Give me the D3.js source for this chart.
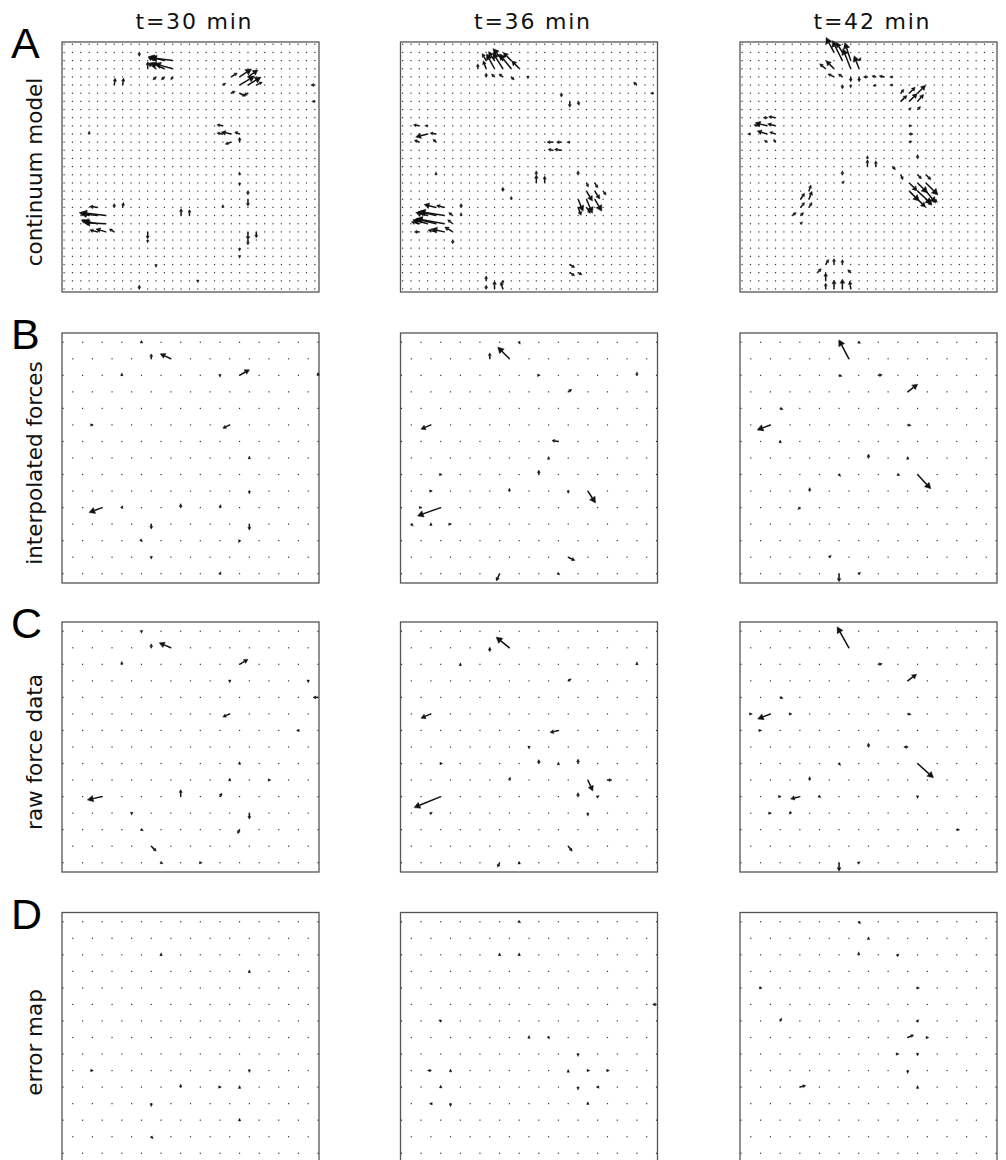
<!DOCTYPE html>
<html lang="en">
<head>
<meta charset="UTF-8">
<title>Traction force maps</title>
<script src="https://cdn.jsdelivr.net/npm/d3@7"></script>
<style>
  body { margin: 0; background: #fff; }
  .title, .rowname { font-family: "DejaVu Sans", sans-serif; fill: #111; }
  .letter { font-family: "Liberation Sans", Arial, sans-serif; fill: #000; }
</style>
</head>
<body>
<script>
// column titles, row labels, panel letters
const times = ["t=30 min", "t=36 min", "t=42 min"];
const rowNames = ["continuum model", "interpolated forces", "raw force data", "error map"];
const letters = ["A", "B", "C", "D"];

// continuum model grid: 31 x 31 nodes (col, row counted from the top)
const denseIdx = d3.range(1, 32);
// hexagonal sampling grid: 15 rows; odd rows sit on x = 0,2..26, even rows on x = 1,3..25
const hexRowIdx = d3.range(1, 16);

// vectors are [col, row, u, v]  (u to the right, v upward, force units)
const contA30 = [
  [14,3,-2.2,0.3],[13,3,-1.6,0.4],[12,3,-0.8,0.3],
  [14,4,-1.8,0.5],[13,4,-1.4,0.6],[12,4,-0.8,0.6],[11,4,0,0.7],
  [12,5,-0.3,-0.3],[13,5,-0.3,-0.3],[14,5,-0.2,-0.3],[10,2,0,-0.4],
  [7,6,0.1,0.7],[8,6,0.1,0.7],
  [21,5,0.6,0.4],[22,5,1.2,0.8],[23,5,1.0,0.7],[20,6,0.3,0.2],[22,6,1.5,0.9],[23,6,1.3,0.8],
  [24,6,0.6,0.3],[21,7,0.4,0.2],[22,7,0.6,-0.3],[23,7,-0.4,-0.2],
  [31,6,-0.4,0],[31,8,-0.3,0],
  [20,11,-0.6,0.1],[21,12,-1.0,0.2],[20,12,-0.6,0.1],[22,12,-0.5,0.2],[21,13,-0.6,-0.2],[22,13,0,0.5],
  [4,12,0,0.3],
  [5,21,-0.8,0.1],[6,22,-2.5,0.3],[5,22,-1.7,0.2],[4,22,-1.0,0.3],[6,23,-2.2,0.1],[5,23,-1.5,0.3],
  [4,23,-0.8,0.4],[6,24,-1.0,0.3],[5,24,-0.8,0.2],[7,24,-0.5,0.3],
  [7,21,0,0.4],[8,21,0.1,0.5],[15,22,0,0.7],[16,22,0,0.6],[20,21,0,0.3],
  [23,19,0,-0.4],[23,20,0,-0.7],[23,24,0,-0.8],[24,24,0,-0.6],[23,25,0,-0.5],
  [11,24,0,-0.7],[11,25,0,-0.3],[22,26,0,-0.3],[22,27,0,-0.2],[12,28,0,-0.3],
  [10,31,0,0.4],[17,30,0,-0.2],[22,17,0,0.3],[22,18,0,-0.3]
];
const contA36 = [
  [11,3,-0.4,0.7],[12,3,-0.6,0.9],[13,3,-1.0,1.2],[14,3,-0.8,0.8],
  [10,4,0,0.5],[11,4,-0.3,0.8],[12,4,-0.8,1.5],[13,4,-1.0,1.6],[14,4,-1.2,1.5],[15,4,-0.8,0.8],
  [11,5,0,0.4],[12,5,-0.3,0.3],[13,5,-0.4,0.3],[14,5,0.3,-0.3],[16,5,0,-0.2],
  [29,6,-0.3,0.3],[31,7,-0.3,0],[20,7,0,-0.4],[21,8,0,-0.6],[22,8,0.1,-0.4],
  [3,11,-0.6,0.1],[4,11,-0.3,0],[4,12,-1.2,-0.3],[5,12,-0.6,0.1],[3,13,-0.5,0.2],[5,13,-0.3,0.3],
  [19,13,-0.6,0],[20,13,-0.5,0],[21,13,-0.3,0],[19,14,-0.5,0.1],[20,14,-0.7,0.1],
  [17,18,0,0.8],[18,18,0,0.7],[17,17,0,0.4],
  [22,17,0,0.4],[23,18,0.2,-0.4],[24,18,0.3,-0.5],[23,19,0.6,-1.0],[24,19,0.5,-0.8],[25,19,0.3,-0.4],
  [22,20,0.5,-1.2],[23,20,0.6,-1.4],[24,20,0.7,-1.2],[22,21,0.3,-0.8],[23,21,0.4,-0.6],
  [13,19,0,0.4],[14,20,0,0.3],[5,17,0,0.3],
  [5,21,-1.2,0.3],[6,21,-0.8,0.2],[6,22,-2.5,0.4],[5,22,-1.8,0.4],[4,22,-1.2,0.3],[7,22,-0.4,0.3],
  [6,23,-2.8,0.5],[5,23,-2.0,0.5],[4,23,-1.5,0.4],[3,23,-0.8,0.2],[7,23,-0.5,0.4],
  [6,24,-1.3,0.3],[7,24,-0.8,0.5],[5,24,-0.8,0.2],[3,24,-0.5,0],[7,25,0,-0.4],
  [8,21,0,0.4],[8,22,0,0.3],[21,28,0.5,-0.3],[21,29,0.5,-0.3],[22,29,0.4,-0.2],
  [11,30,0,0.5],[12,31,0,0.8],[13,31,-0.2,0.7],[11,31,0,0.4],[13,30,0,-0.3]
];
const contA42 = [
  [12,2,-0.8,1.5],[13,2,-0.6,1.0],[13,3,-1.0,2.0],[14,3,-0.6,1.8],[14,4,-0.8,2.0],[15,4,-0.5,1.3],
  [12,4,-0.8,0.8],[11,4,-0.6,0.5],[12,5,-0.6,0.3],[13,5,-0.4,0.3],[14,5,0,-0.5],[15,5,0,-0.5],[15,3,0.2,0.3],
  [16,5,-0.4,0],[17,5,-0.4,0.1],[18,5,-0.5,0.1],[19,5,-0.3,0],[17,6,-0.3,-0.1],[13,6,0,-0.4],[14,6,0,-0.3],[19,6,-0.3,0],
  [20,8,0.6,0.6],[21,8,0.8,0.8],[22,8,0.6,0.7],[21,7,0.6,0.6],[22,7,0.8,0.8],[20,7,0.3,0.4],[22,9,0.3,0.3],[21,9,0.2,0.2],
  [4,11,-1.2,0.3],[5,11,-0.8,0.2],[5,10,-0.7,0.1],[4,10,-0.4,0],[4,12,-1.0,0.3],[5,12,-0.6,0.2],
  [4,13,-0.3,0.2],[5,13,-0.2,0.3],[3,11,-0.5,0.1],[2,12,-0.3,0],
  [21,11,0.3,0],[21,12,0.4,0],[21,13,0.3,0.1],
  [16,16,0,0.7],[17,16,0,0.6],[16,15,0,0.3],[19,16,0.3,-0.3],[20,17,0.2,-0.5],[22,15,0,0.4],
  [21,18,0.8,-0.8],[22,18,1.0,-1.0],[23,18,1.2,-1.2],[21,19,1.0,-1.0],[22,19,1.4,-1.3],[23,19,1.0,-1.2],
  [22,20,0.8,-0.8],[23,20,0.6,-0.6],[24,20,0.3,-0.3],[22,17,0.4,-0.4],[23,17,0.5,-0.5],
  [13,17,0,0.4],[13,18,0.2,0.2],
  [8,20,0.4,0.6],[9,20,0.3,0.8],[8,21,0.4,0.5],[9,21,0.3,0.5],[7,22,0.4,0.3],[8,22,0.3,0.3],[9,19,0.2,0.6],[8,23,0.2,0.2],
  [11,28,0.3,0.5],[12,28,0,0.6],[13,28,0,0.5],[10,29,0.4,0.4],[11,30,0,0.8],[12,31,0,0.9],
  [13,31,0,1.0],[14,31,-0.1,0.8],[11,31,0,0.6],[14,29,-0.3,0.3]
];

// interpolated forces on the hexagonal grid [x, row, u, v]
const interp30 = [
  [9,2,0,0.5],[11,2,-1.07,0.5],[18,3,1.0,0.57],[17,6,-0.7,-0.33],[4,11,-1.33,-0.5],[12,11,0,0.4],
  [16,11,0.1,0.3],[6,11,0.1,0.2],[9,12,0,-0.5],[19,10,0,-0.3],[19,12,0,-0.6],[18,13,-0.1,-0.2],
  [8,13,0.1,-0.1],[9,14,0,-0.2],[16,15,0.1,0.2],[6,3,0,0.25],[16,3,0,-0.2],[3,6,0.1,0],[26,3,0,0.3],
  [8,1,0,0.2],[19,8,0,0.2]
];
const interp36 = [
  [9,2,0,0.6],[11,2,-1.17,1.17],[12,1,0.1,-0.2],[14,3,0.15,0],[17,4,0.35,0.25],[24,3,0,0.35],
  [3,6,-1.0,-0.43],[16,7,-0.65,0.1],[15,8,0,0.15],[14,9,0,0.45],[4,9,0.15,0],[3,10,0.15,0],
  [11,10,0,0.3],[17,10,0,-0.25],[19,10,0.77,-1.2],[4,11,-2.33,-0.83],[2,11,0.1,0],[1,12,0.2,-0.2],
  [3,12,0,0.15],[5,12,0.1,0],[17,14,0.67,-0.33],[16,15,0.15,-0.1],[10,15,-0.33,-0.73]
];
const interp42 = [
  [11,2,-1.0,1.9],[12,1,0.2,-0.1],[10,3,0.3,-0.1],[14,3,0.4,0.05],[17,4,1.0,0.77],[4,5,0.3,-0.1],
  [3,6,-1.33,-0.5],[17,6,0.35,-0.05],[4,7,0,0.15],[13,8,0,0.4],[17,8,0,0.15],[10,9,0.15,-0.2],
  [16,9,0.2,-0.1],[18,9,1.33,-1.43],[7,10,0,0.35],[6,11,-0.2,-0.2],[9,14,0.2,0.2],[10,15,0,-0.8],
  [12,15,0.2,0.15]
];

// raw force data
const raw30 = [
  [8,1,0,-0.2],[9,2,0,0.4],[11,2,-1.17,0.5],[18,3,0.85,0.5],[6,3,0,0.3],[17,6,-0.7,-0.3],
  [17,4,0,-0.2],[25,4,0,-0.2],[26,5,-0.5,0],[24,7,-0.2,0],[18,9,0,0.2],[17,10,0,0.2],
  [4,11,-1.5,-0.33],[12,11,0,0.7],[16,11,0.2,0.35],[19,12,0,-0.6],[18,13,-0.2,-0.4],[8,13,0.2,-0.1],
  [9,14,0.5,-0.5],[10,15,0.2,-0.1],[14,15,0.2,0],[7,12,0,-0.2],[21,10,0.2,0]
];
const raw36 = [
  [9,2,0,-0.4],[11,2,-1.33,1.07],[6,3,0,0.15],[24,3,0,0.25],[17,4,0.3,0.2],[3,6,-1.0,-0.43],
  [16,7,-0.85,-0.2],[13,8,0,-0.2],[4,9,0.2,0],[14,9,0,0.4],[16,9,0,0.15],[18,9,0,0.45],
  [11,10,0.1,0.3],[19,10,0.5,-1.1],[21,10,0.45,0],[18,11,0,0.4],[20,11,0.15,0.1],[4,11,-2.67,-1.1],
  [3,12,0.15,0.1],[19,12,0,-0.3],[17,14,0.4,-0.5],[10,15,-0.2,-0.45],[12,15,0,0.15]
];
const raw42 = [
  [11,2,-1.17,2.1],[14,3,0.4,0.05],[17,4,0.9,0.67],[4,5,0.3,-0.1],[3,6,-1.27,-0.5],[1,6,0.15,0],
  [5,6,0.2,0],[17,6,0.35,-0.05],[2,7,0.1,0],[13,8,0,0.4],[17,8,-0.4,0],[10,9,0.15,-0.2],
  [18,9,1.6,-1.43],[7,10,0,0.35],[6,11,-0.93,-0.23],[8,11,0.15,-0.1],[4,11,0.1,0],[18,11,0,-0.2],
  [3,12,0.1,0],[5,12,-0.1,-0.1],[22,13,0.3,0],[10,15,0,-0.85],[12,15,0.15,0.1]
];

// error map
const err30 = [
  [12,11,0,0.3],[9,12,0,-0.3],[9,14,0.2,-0.2],[18,13,0,0.2],[19,10,0,-0.2],[3,10,0.1,0],
  [19,4,0,0.15],[10,3,0,0.2],[16,11,0.15,0],[18,11,0,0.15]
];
const err36 = [
  [12,1,0.15,-0.1],[10,3,0,0.2],[12,3,0,0.2],[26,6,-0.4,0],[4,7,-0.2,0.1],[13,8,0,0.2],
  [15,8,0.1,-0.15],[18,9,0,-0.25],[3,10,-0.35,0],[5,10,0,0.15],[17,10,0,0.1],[19,10,0.2,0],
  [21,10,0.2,0],[4,11,0,0.2],[18,11,0,-0.3],[20,11,-0.15,0],[3,12,-0.15,0],[5,12,0,-0.3],[19,12,0,0.2]
];
const err42 = [
  [12,1,0.2,-0.2],[13,2,0,0.15],[12,3,0,0.3],[16,3,0.1,0.1],[18,5,0.2,0],[2,5,0.15,-0.05],
  [4,7,0.15,0.3],[18,7,0.1,0.15],[17,8,0.6,0.25],[19,8,0.15,0],[18,9,0,-0.2],[16,9,0.1,0],
  [17,10,0,-0.3],[6,11,0.6,0.15],[18,11,0,0.15]
];

const grid = [
  [contA30, contA36, contA42],
  [interp30, interp36, interp42],
  [raw30, raw36, raw42],
  [err30, err36, err42]
];

const width = 1006, height = 1160;
const colLeft = [62, 400.5, 740];
const rowTop = [42, 333, 622, 912.5];
const pw = 257, ph = 250;

const svg = d3.select("body").append("svg")
  .attr("width", width)
  .attr("height", height);

// scales
const xDense = d3.scaleLinear().domain([0.75, 31.5]).range([0, pw]);
const yDense = d3.scaleLinear().domain([0.72, 31.37]).range([0, ph]);
const xHex = d3.scaleLinear().domain([-0.1, 26.1]).range([0, pw]);
const yHex = d3.scaleLinear().domain([0.44, 15.56]).range([0, ph]);
const mag = d3.scaleLinear().domain([0, 1]).range([0, 10]);

// node lists
const denseNodes = d3.cross(denseIdx, denseIdx);
const hexNodes = [];
hexRowIdx.forEach(r => {
  const start = r % 2 === 1 ? 0 : 1;
  for (let x = start; x <= 26; x += 2) hexNodes.push([x, r]);
});

function drawArrows(g, data, xs, ys) {
  data.forEach(([c, r, u, v]) => {
    const x0 = xs(c), y0 = ys(r);
    const dx = mag(u), dy = -mag(v);
    const L = Math.hypot(dx, dy);
    if (L === 0) return;
    const ux = dx / L, uy = dy / L;
    const x1 = x0 + dx, y1 = y0 + dy;
    const h = Math.min(6, Math.max(2.8, L * 0.42));
    const w = h * (L < 4 ? 0.45 : 0.55);
    const bx = x1 - ux * h, by = y1 - uy * h;
    if (L > h) {
      g.append("line")
        .attr("x1", x0).attr("y1", y0)
        .attr("x2", bx).attr("y2", by)
        .attr("stroke", "#111")
        .attr("stroke-width", 1.5);
    }
    g.append("polygon")
      .attr("points", [[x1, y1], [bx - uy * w, by + ux * w], [bx + uy * w, by - ux * w]].map(p => p.join(",")).join(" "))
      .attr("fill", "#111")
      .attr("stroke", "#111")
      .attr("stroke-width", 0.4);
  });
}

grid.forEach((rowData, ri) => {
  rowData.forEach((data, ci) => {
    const g = svg.append("g")
      .attr("transform", `translate(${colLeft[ci]},${rowTop[ri]})`);
    const dense = ri === 0;
    const xs = dense ? xDense : xHex;
    const ys = dense ? yDense : yHex;
    const nodes = dense ? denseNodes : hexNodes;

    g.append("rect")
      .attr("width", pw).attr("height", ph)
      .attr("fill", "#fff")
      .attr("stroke", "#555")
      .attr("stroke-width", 1.3);

    g.selectAll(".dot")
      .data(nodes)
      .enter().append("rect")
      .attr("class", "dot")
      .attr("x", d => xs(d[0]) - 0.6)
      .attr("y", d => ys(d[1]) - 0.6)
      .attr("width", 1.2).attr("height", 1.2)
      .attr("fill", "#333");

    drawArrows(g, data, xs, ys);
  });
});

// column titles
times.forEach((t, i) => {
  svg.append("text")
    .attr("class", "title")
    .attr("x", colLeft[i] + pw / 2 + 3)
    .attr("y", 29)
    .attr("text-anchor", "middle")
    .attr("font-size", 22)
    .attr("textLength", 116)
    .attr("lengthAdjust", "spacing")
    .text(t);
});

// row labels and panel letters
rowNames.forEach((name, i) => {
  const cy = rowTop[i] + ph / 2 + 5;
  svg.append("text")
    .attr("class", "rowname")
    .attr("transform", `translate(42,${cy}) rotate(-90)`)
    .attr("text-anchor", "middle")
    .attr("font-size", 21.5)
    .text(name);
  svg.append("text")
    .attr("class", "letter")
    .attr("x", 11)
    .attr("y", rowTop[i] + 16)
    .attr("font-size", 43)
    .text(letters[i]);
});
</script>
</body>
</html>
